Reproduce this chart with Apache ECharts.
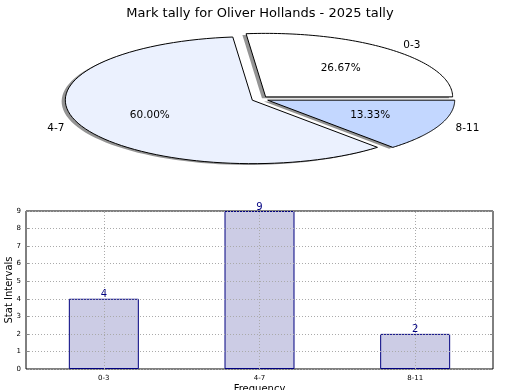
<!DOCTYPE html>
<html><head><meta charset="utf-8">
<script src="https://cdn.jsdelivr.net/npm/echarts@6/dist/echarts.min.js"></script>
<style>html,body{margin:0;padding:0;background:#fff}#c{width:520px;height:390px}</style>
</head><body><div id="c"></div>
<script>
const categories = ['0-3', '4-7', '8-11'];
const counts = [4, 9, 2];
const sliceColors = ['#ffffff', '#ebf1fe', '#c3d7ff'];
const yTicks = [0, 1, 2, 3, 4, 5, 6, 7, 8, 9];
const titleText = 'Mark tally for Oliver Hollands - 2025 tally';

const FONT = 'DejaVu Sans';
const P = {cx: 260, cy: 99, rx: 187, ry: 63.5, explode: 0.045, shadowDx: -3.7, shadowDy: 1.3};
const total = counts.reduce((a, b) => a + b, 0);
const starts = [];
let acc = 0;
counts.forEach(v => { starts.push(acc / total * 360); acc += v; });

function slicePoints(i, dx, dy) {
  const a1 = starts[i], a2 = a1 + counts[i] / total * 360;
  const mid = (a1 + a2) / 2 * Math.PI / 180;
  const ex = P.cx + P.explode * P.rx * Math.cos(mid) + dx;
  const ey = P.cy - P.explode * P.ry * Math.sin(mid) + dy;
  const pts = [[ex, ey]];
  const n = 80;
  for (let k = 0; k <= n; k++) {
    const t = (a1 + (a2 - a1) * k / n) * Math.PI / 180;
    pts.push([ex + P.rx * Math.cos(t), ey - P.ry * Math.sin(t)]);
  }
  return {pts, mid, ex, ey};
}

function renderShadow(params, api) {
  const i = params.dataIndex;
  const s = slicePoints(i, P.shadowDx, P.shadowDy);
  return {type: 'polygon', shape: {points: s.pts}, style: {fill: 'rgba(0,0,0,0.42)', stroke: null}};
}

function renderSlice(params, api) {
  const i = params.dataIndex;
  const s = slicePoints(i, 0, 0);
  const c = Math.cos(s.mid), sn = Math.sin(s.mid);
  const lx = s.ex + 1.1 * P.rx * c, ly = s.ey - 1.1 * P.ry * sn;
  const px = s.ex + 0.6 * P.rx * c, py = s.ey - 0.6 * P.ry * sn;
  const pct = (api.value(0) / total * 100).toFixed(2) + '%';
  return {type: 'group', children: [
    {type: 'polygon', shape: {points: s.pts}, style: {fill: sliceColors[i], stroke: '#000', lineWidth: 1}},
    {type: 'text', x: lx, y: ly, style: {text: categories[i], fontFamily: FONT, fontSize: 10.5, fill: '#000',
      align: c >= 0 ? 'left' : 'right', verticalAlign: 'middle'}},
    {type: 'text', x: px, y: py, style: {text: pct, fontFamily: FONT, fontSize: 10.5, fill: '#000',
      align: 'center', verticalAlign: 'middle'}}
  ]};
}

const chart = echarts.init(document.getElementById('c'), null, {renderer: 'canvas'});
chart.setOption({
  animation: false,
  backgroundColor: '#fff',
  textStyle: {fontFamily: FONT},
  title: {text: titleText, left: 'center', top: 2, textStyle: {fontFamily: FONT, fontSize: 13, fontWeight: 'normal', color: '#000'}},
  grid: {left: 26, right: 27, top: 211, bottom: 21, containLabel: false, outerBoundsMode: 'none',
    show: true, borderColor: '#000', borderWidth: 1, backgroundColor: 'transparent'},
  xAxis: {type: 'category', data: categories, z: 5,
    axisLine: {show: false}, axisTick: {show: false},
    axisLabel: {fontSize: 7, color: '#000', margin: 6, fontFamily: FONT},
    splitLine: {show: false},
    name: 'Frequency', nameLocation: 'middle', nameGap: 15, nameMoveOverlap: false,
    nameTextStyle: {fontSize: 10, color: '#000', fontFamily: FONT, verticalAlign: 'top'}},
  yAxis: [{type: 'value', min: 0, max: 9, interval: 1, z: 5,
    axisLine: {show: false},
    axisTick: {show: true, inside: true, length: 3, lineStyle: {color: '#888'}},
    axisLabel: {fontSize: 7, color: '#000', margin: 5, fontFamily: FONT, formatter: v => yTicks.indexOf(v) >= 0 ? String(v) : ''},
    splitLine: {show: true, lineStyle: {type: [1, 2], color: '#aaa', width: 1}},
    name: 'Stat Intervals', nameLocation: 'middle', nameGap: 12, nameMoveOverlap: false,
    nameTextStyle: {fontSize: 10, color: '#000', fontFamily: FONT}},
    {type: 'value', min: 0, max: 9, interval: 1, position: 'right', z: 5,
    axisLine: {show: false}, axisLabel: {show: false}, splitLine: {show: false},
    axisTick: {show: true, inside: true, length: 3, lineStyle: {color: '#888'}}}],
  series: [
    {type: 'custom', coordinateSystem: 'none', data: counts, renderItem: renderShadow, z: 1, silent: true},
    {type: 'custom', coordinateSystem: 'none', data: counts, renderItem: renderSlice, z: 2, silent: true},
    {type: 'bar', data: counts, barWidth: 70, z: 2,
      itemStyle: {color: '#ccccE5', borderColor: '#000080', borderWidth: 1},
      label: {show: true, position: 'top', distance: -1, color: '#000080', fontSize: 10, fontFamily: FONT},
      markLine: {silent: true, symbol: ['none', 'none'], label: {show: false},
        lineStyle: {type: [1, 2], color: '#aaa', width: 1},
        data: categories.map(c => ({xAxis: c}))}}
  ]
});
</script></body></html>
